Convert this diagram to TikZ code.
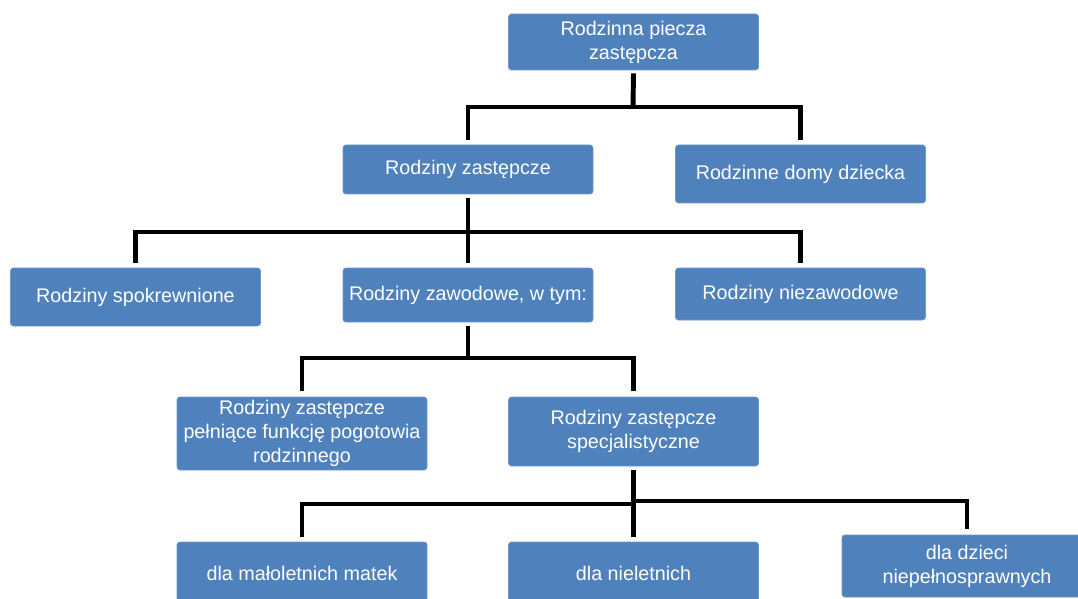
\documentclass[tikz,border=0pt]{standalone}
\usepackage{fontspec}
\setmainfont{Liberation Sans}
\usetikzlibrary{calc}
\definecolor{boxblue}{RGB}{79,129,189}
\definecolor{boxedge}{RGB}{110,152,204}
\tikzset{
  box/.style={rectangle, rounded corners=2.2pt, fill=boxblue, draw=boxedge,
    line width=0.5pt, text=white, font=\fontsize{14.8}{18}\selectfont,
    align=center, inner sep=0pt, minimum width=187.5pt},
  conn/.style={line width=3.7pt, draw=black, line join=miter}
}
\begin{document}
\begin{tikzpicture}[x=0.75pt, y=-0.75pt]
\useasboundingbox (0,0) rectangle (1078,599);
\clip (0,0) rectangle (1078,599);
% boxes
\node[box, minimum height=42pt] (top) at (633.5,42) {Rodzinna piecza\\zastępcza};
\node[box, minimum height=36.75pt] (rz) at (468,169.5) {Rodziny zastępcze};
\node[box, minimum height=43.5pt] (rdd) at (800.5,174) {Rodzinne domy dziecka};
\node[box, minimum height=43.5pt] (rs) at (135.5,297) {Rodziny spokrewnione};
\node[box, minimum height=40.5pt] (rzaw) at (468,295) {Rodziny zawodowe, w tym:};
\node[box, minimum height=39pt] (rn) at (800.5,294) {Rodziny niezawodowe};
\node[box, minimum height=54.75pt] (pog) at (302,433.5) {Rodziny zastępcze\\pełniące funkcję pogotowia\\rodzinnego};
\node[box, minimum height=51.75pt] (spec) at (633.5,431.5) {Rodziny zastępcze\\specjalistyczne};
\node[box, minimum height=46.5pt] (mat) at (302,573) {dla małoletnich matek};
\node[box, minimum height=46.5pt] (niel) at (633.5,573) {dla nieletnich};
\node[box, minimum height=46.5pt] (niep) at (967,566) {dla dzieci\\niepełnosprawnych};
% junctions
\coordinate (j1) at (633,107);
\coordinate (j2) at (468,232);
\coordinate (j3) at (468,358);
\coordinate (j4a) at (633,504);
\coordinate (j4b) at (633,501);
% level 1
\draw[conn] ($(top.south)+(0,3)$) -- (j1);
\draw[conn] (j1) -| ($(rz.north)+(0,-5)$);
\draw[conn] (j1) -| ($(rdd.north)+(0,-5)$);
% level 2
\draw[conn] ($(rz.south)+(0,4)$) -- ($(rzaw.north)+(0,-5)$);
\draw[conn] (j2) -| ($(rs.north)+(0,-5)$);
\draw[conn] (j2) -| ($(rn.north)+(0,-5)$);
% level 3
\draw[conn] ($(rzaw.south)+(0,4)$) -- (j3);
\draw[conn] (j3) -| ($(pog.north)+(0,-6)$);
\draw[conn] (j3) -| ($(spec.north)+(0,-6)$);
% level 4
\draw[conn] ($(spec.south)+(0,4)$) -- ($(niel.north)+(0,-5)$);
\draw[conn] (j4a) -| ($(mat.north)+(0,-5)$);
\draw[conn] (j4b) -| ($(niep.north)+(0,-6)$);
\end{tikzpicture}
\end{document}
